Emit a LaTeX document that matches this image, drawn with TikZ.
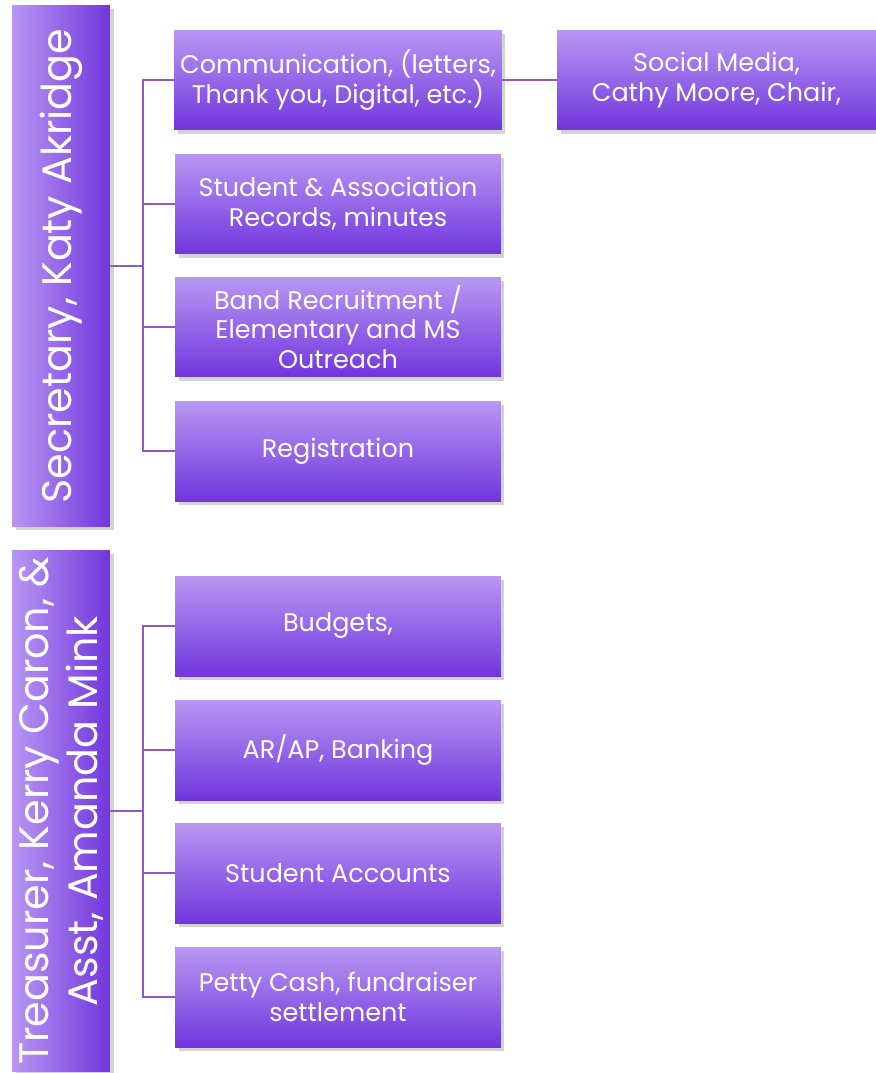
\documentclass[tikz,border=0pt]{standalone}
\usepackage{fontspec}
\setmainfont{Poppins}
\usetikzlibrary{shadows}
\definecolor{boxtop}{HTML}{B897F3}
\definecolor{boxbot}{HTML}{7135DD}
\definecolor{linkcol}{HTML}{8A5BC6}
\begin{document}
\begin{tikzpicture}[x=0.02cm,y=-0.02cm,
    officer/.style={rotate=90,minimum width=10.44cm,minimum height=1.96cm,
      left color=boxtop,right color=boxbot,text=white,align=center,
      font=\fontsize{23.5}{28}\selectfont,
      drop shadow={shadow xshift=2pt,shadow yshift=-2pt,opacity=0.35}},
    duty/.style={minimum width=6.52cm,minimum height=2cm,
      top color=boxtop,bottom color=boxbot,text=white,align=center,
      font=\fontsize{14.5}{17}\selectfont,
      drop shadow={shadow xshift=2pt,shadow yshift=-2pt,opacity=0.35}},
    link/.style={draw=linkcol,line width=1.2pt}]
  \useasboundingbox (0,0) rectangle (876,1073);
  % secretary branch
  \node[officer] (sec) at (61,266) {Secretary, Katy Akridge};
  \node[duty] (comm) at (338,80) {Communication, (letters,\\Thank you, Digital, etc.)};
  \node[duty] (recs) at (338,204) {Student \& Association\\Records, minutes};
  \node[duty] (band) at (338,327) {Band Recruitment /\\Elementary and MS\\Outreach};
  \node[duty] (reg) at (338,451) {Registration};
  \node[duty,minimum width=6.38cm] (soc) at (716.5,80) {Social Media,\\Cathy Moore, Chair,};
  \coordinate (s1) at (143,266);
  \draw[link] (sec.south) -- (s1);
  \foreach \n in {comm,recs,band,reg}
    \draw[link] (s1) |- (\n.west);
  \draw[link] (comm.east) -- (soc.west);
  % treasurer branch
  \node[officer] (tre) at (61,811) {Treasurer, Kerry Caron, \&\\Asst, Amanda Mink};
  \node[duty] (budg) at (338,626) {Budgets,};
  \node[duty] (bank) at (338,750) {AR/AP, Banking};
  \node[duty] (acct) at (338,873) {Student Accounts};
  \node[duty] (cash) at (338,997) {Petty Cash, fundraiser\\settlement};
  \coordinate (s2) at (143,811);
  \draw[link] (tre.south) -- (s2);
  \foreach \n in {budg,bank,acct,cash}
    \draw[link] (s2) |- (\n.west);
\end{tikzpicture}
\end{document}
